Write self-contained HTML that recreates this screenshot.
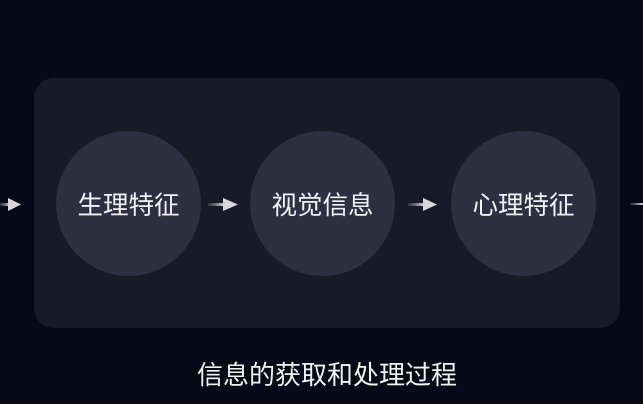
<!DOCTYPE html>
<html><head><meta charset="utf-8"><style>
body{margin:0;width:643px;height:404px;background:#070917;overflow:hidden;position:relative;font-family:"Liberation Sans","Noto Sans CJK SC",sans-serif;}
.panel{position:absolute;left:34px;top:78px;width:586px;height:250px;background:#191a28;border-radius:20px;}
.c{position:absolute;top:131px;width:145px;height:145px;border-radius:50%;background:#2e2f40;color:#f2f2f5;font-size:25.5px;display:flex;align-items:center;justify-content:center;}
.cap{position:absolute;left:0;width:654px;top:355px;text-align:center;color:#f2f2f5;font-size:26px;}
svg{position:absolute;left:0;top:0;}
</style></head><body>
<div class="panel"></div>
<div class="c" style="left:56px">生理特征</div>
<div class="c" style="left:250px">视觉信息</div>
<div class="c" style="left:451px">心理特征</div>
<svg width="643" height="404">
<defs><linearGradient id="g" x1="0" x2="1"><stop offset="0" stop-color="#777" stop-opacity="0.3"/><stop offset="1" stop-color="#ddd"/></linearGradient></defs>
<g fill="#d8d8dc">
<rect x="0" y="203" width="10" height="3" fill="url(#g)"/><polygon points="8,198 21,204.5 8,211"/>
<rect x="208" y="203" width="16" height="3" fill="url(#g)"/><polygon points="223,198 238,204.5 223,211"/>
<rect x="408" y="203" width="16" height="3" fill="url(#g)"/><polygon points="423,198 437,204.5 423,211"/>
<rect x="630" y="203" width="13" height="2" fill="url(#g)"/>
</g>
</svg>
<div class="cap">信息的获取和处理过程</div>
</body></html>
